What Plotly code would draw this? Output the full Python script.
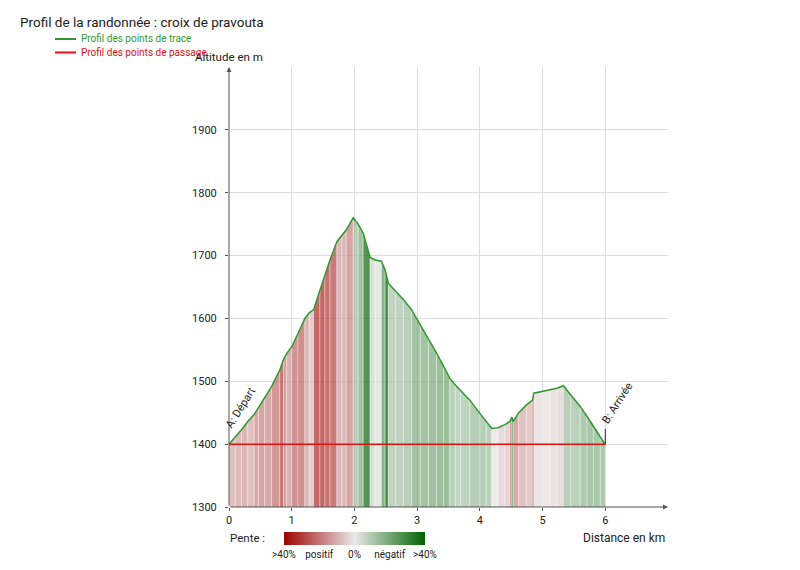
import plotly.graph_objects as go
from plotly.colors import sample_colorscale

title = "Profil de la randonnée : croix de pravouta"

# profil des points de trace (distance en km, altitude en m)
dist = [0, 0.1, 0.2, 0.3, 0.4, 0.47, 0.57, 0.68, 0.81, 0.87, 0.92, 1.0, 1.1,
        1.21, 1.28, 1.35, 1.45, 1.53, 1.61, 1.72, 1.8, 1.87, 1.98, 2.06, 2.14,
        2.25, 2.33, 2.43, 2.49, 2.54, 2.66, 2.78, 2.91, 3.05, 3.18, 3.31, 3.42,
        3.52, 3.61, 3.69, 3.84, 4.0, 4.1, 4.19, 4.29, 4.4, 4.48, 4.51, 4.53,
        4.62, 4.74, 4.84, 4.86, 5.0, 5.12, 5.23, 5.33, 5.45, 5.6, 5.71, 5.81,
        5.92, 6.0]
alt = [1400, 1411, 1423, 1436, 1447, 1458, 1475, 1492, 1518, 1535, 1544, 1555,
       1576, 1600, 1609, 1614, 1645, 1670, 1693, 1722, 1732, 1741, 1760, 1750,
       1736, 1697, 1693, 1691, 1677, 1656, 1643, 1630, 1614, 1590, 1568, 1545,
       1524, 1505, 1494, 1486, 1470, 1449, 1436, 1425, 1426, 1431, 1436, 1443,
       1436, 1450, 1462, 1470, 1481, 1484, 1486, 1489, 1493, 1478, 1460, 1444,
       1428, 1411, 1399]

# profil des points de passage
pass_dist = [0, 6]
pass_alt = [1400, 1400]
pass_labels = ["A: Départ", "B: Arrivée"]

x_ticks = [0, 1, 2, 3, 4, 5, 6]
y_ticks = [1300, 1400, 1500, 1600, 1700, 1800, 1900]

slope_ticks = [-40, -20, 0, 20, 40]
slope_ticktext = [">40%", "positif", "0%", "négatif", ">40%"]

scale = [[0, "#a00000"], [0.5, "#e8e8e8"], [1, "#006400"]]

# the page body adds 8px around the figure
OFF = 8
W, H = 800 - OFF, 570 - OFF
L, R, T, B = 229 - OFF, 132, 67 - OFF, 63


def px(x):
    return (x - OFF - L) / (W - L - R)


def py(y):
    return (H - B - (y - OFF)) / (H - T - B)


fig = go.Figure()

# fill coloured by slope, one strip per segment
mids, vals = [], []
for i in range(len(dist) - 1):
    x0, x1 = dist[i], dist[i + 1]
    y0, y1 = alt[i], alt[i + 1]
    slope = (y1 - y0) / (x1 - x0) / 10.0  # in %
    v = max(-40, min(40, -slope))
    c = sample_colorscale(scale, [(v + 40) / 80])[0]
    c = c.replace("rgb(", "rgba(").replace(")", ", 0.75)")
    fig.add_trace(go.Scatter(
        x=[x0, x0, x1, x1], y=[1300, y0, y1, 1300],
        mode="lines", fill="toself", fillcolor=c,
        line=dict(width=0.6, color="rgba(255,255,255,0.6)"),
        hoverinfo="skip", showlegend=False))
    mids.append((x0 + x1) / 2)
    vals.append(v)

# trace line
fig.add_trace(go.Scatter(x=dist, y=alt, mode="lines",
                         line=dict(color="#2f962f", width=1.5),
                         showlegend=False))
# passage line
fig.add_trace(go.Scatter(x=pass_dist, y=pass_alt, mode="lines",
                         line=dict(color="#e01010", width=1.5),
                         showlegend=False))

# dummy trace carrying the slope colorbar
fig.add_trace(go.Scatter(
    x=mids, y=[1300] * len(mids), mode="markers", hoverinfo="skip",
    showlegend=False,
    marker=dict(size=1, opacity=0, color=vals, colorscale=scale,
                cmin=-40, cmax=40, showscale=True,
                colorbar=dict(orientation="h", lenmode="pixels", len=141,
                              thickness=13, x=px(354.5), xanchor="center",
                              y=py(532), yanchor="top", xpad=0, ypad=0,
                              outlinewidth=0, tickvals=slope_ticks,
                              ticktext=slope_ticktext, ticks="",
                              tickfont=dict(size=10, color="#222")))))

ann = []
# axis arrows
ann.append(dict(x=7, y=1300, ax=0, ay=1300, xref="x", yref="y", axref="x",
                ayref="y", text="", showarrow=True, arrowhead=2,
                arrowsize=1, arrowwidth=1, arrowcolor="#555"))
ann.append(dict(x=0, y=2000, ax=0, ay=1300, xref="x", yref="y", axref="x",
                ayref="y", text="", showarrow=True, arrowhead=2,
                arrowsize=1, arrowwidth=1, arrowcolor="#555"))
# passage labels
ann.append(dict(x=0.19, y=1458, xref="x", yref="y", text=pass_labels[0],
                textangle=-58, showarrow=False, font=dict(size=11, color="#222")))
ann.append(dict(x=6.2, y=1466, xref="x", yref="y", text=pass_labels[1],
                textangle=-57, showarrow=False, font=dict(size=11, color="#222")))


def label(x, y, text, size, color="#222", anchor="left"):
    return dict(x=px(x), y=py(y), xref="paper", yref="paper", xanchor=anchor,
                yanchor="middle", text=text, showarrow=False,
                font=dict(size=size, color=color))


# axis titles and legend texts
ann.append(label(228.5, 57, "Altitude en m", 11.5, anchor="center"))
ann.append(label(667, 538, "Distance en km", 12, anchor="right"))
ann.append(label(228, 538, "Pente :", 11.5))
ann.append(label(79, 39, "Profil des points de trace", 10, "#2f9a2f"))
ann.append(label(79, 52.5, "Profil des points de passage", 10, "#e01010"))

shapes = [
    dict(type="line", xref="paper", yref="paper", x0=px(55), x1=px(76),
         y0=py(39), y1=py(39), line=dict(color="#2f962f", width=2)),
    dict(type="line", xref="paper", yref="paper", x0=px(55), x1=px(76),
         y0=py(52.5), y1=py(52.5), line=dict(color="#e01010", width=2)),
    dict(type="line", xref="x", yref="y", x0=6, x1=6, y0=1400, y1=1424,
         line=dict(color="#222", width=1)),
]

fig.update_layout(
    width=W, height=H,
    margin=dict(l=L, r=R, t=T, b=B),
    paper_bgcolor="white", plot_bgcolor="white",
    font=dict(family="Roboto", color="#222"),
    title=dict(text=title, x=(20 - OFF) / W, xanchor="left", xref="container",
               y=1 - (22 - OFF) / H, yanchor="middle", yref="container",
               font=dict(size=13.5, color="#222")),
    annotations=ann, shapes=shapes,
    xaxis=dict(range=[0, 7], tickvals=x_ticks, showgrid=True,
               gridcolor="#dcdcdc", gridwidth=1, zeroline=False,
               showline=False, ticks="outside", ticklen=3, tickcolor="#555",
               tickfont=dict(size=11)),
    yaxis=dict(range=[1300, 2000], tickvals=y_ticks, showgrid=True,
               gridcolor="#dcdcdc", gridwidth=1, zeroline=False,
               showline=False, ticks="outside", ticklen=3, tickcolor="#555",
               ticklabelstandoff=6, tickfont=dict(size=11)),
)

fig.write_html("out.html")
